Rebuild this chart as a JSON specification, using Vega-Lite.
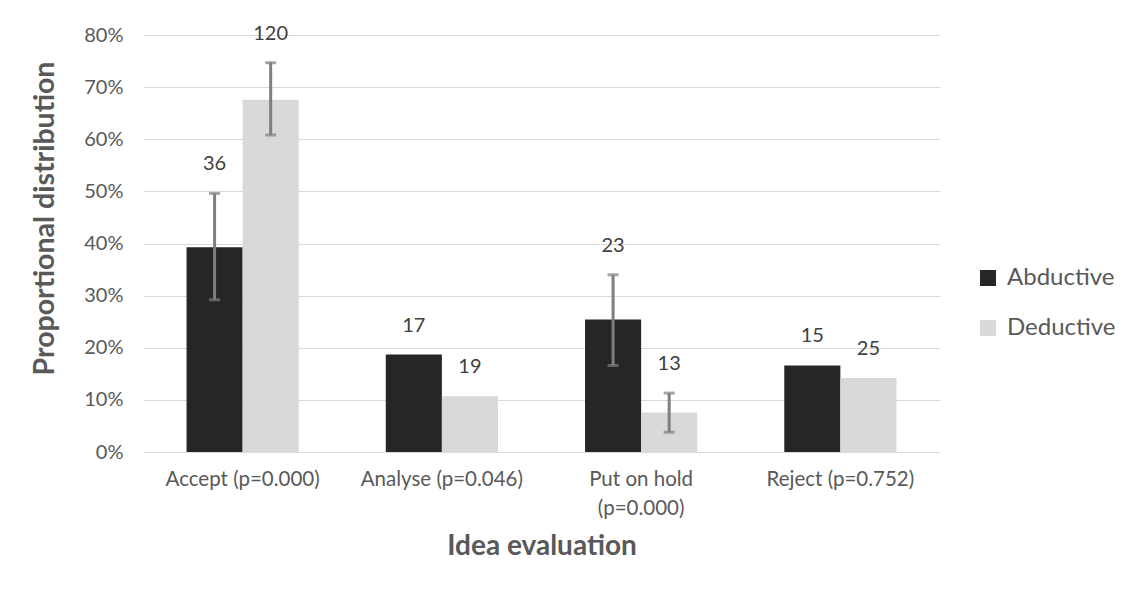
{
  "$schema": "https://vega.github.io/schema/vega-lite/v6.json",
  "width": 797,
  "height": 417,
  "autosize": {"type": "none"},
  "padding": {"left": 143, "top": 35, "right": 193, "bottom": 139},
  "background": "white",
  "config": {
    "font": "Lato",
    "view": {"stroke": null},
    "axis": {"labelColor": "#595959", "titleColor": "#595959", "gridColor": "#d9d9d9", "domain": false, "ticks": false, "labelOverlap": false}
  },
  "data": {
    "values": [
      {"category": "Accept (p=0.000)", "type": "Abductive", "value": 0.393, "lo": 0.292, "hi": 0.496, "n": 36},
      {"category": "Accept (p=0.000)", "type": "Deductive", "value": 0.676, "lo": 0.608, "hi": 0.747, "n": 120},
      {"category": "Analyse (p=0.046)", "type": "Abductive", "value": 0.187, "lo": null, "hi": null, "n": 17},
      {"category": "Analyse (p=0.046)", "type": "Deductive", "value": 0.107, "lo": null, "hi": null, "n": 19},
      {"category": "Put on hold (p=0.000)", "type": "Abductive", "value": 0.254, "lo": 0.166, "hi": 0.340, "n": 23},
      {"category": "Put on hold (p=0.000)", "type": "Deductive", "value": 0.076, "lo": 0.038, "hi": 0.113, "n": 13},
      {"category": "Reject (p=0.752)", "type": "Abductive", "value": 0.166, "lo": null, "hi": null, "n": 15},
      {"category": "Reject (p=0.752)", "type": "Deductive", "value": 0.142, "lo": null, "hi": null, "n": 25}
    ]
  },
  "encoding": {
    "x": {
      "field": "category", "type": "nominal", "sort": null,
      "scale": {"paddingInner": 0.437, "paddingOuter": 0.2185},
      "axis": {
        "title": "Idea evaluation", "titleFontSize": 28, "titleFontWeight": "bold", "titlePadding": 14,
        "labelAngle": 0, "labelFontSize": 20.5, "labelPadding": 17, "labelLineHeight": 29, "labelBaseline": "top",
        "labelExpr": "datum.label == 'Put on hold (p=0.000)' ? ['Put on hold', '(p=0.000)'] : datum.label",
        "grid": false
      }
    },
    "xOffset": {"field": "type", "type": "nominal", "sort": ["Abductive", "Deductive"], "scale": {"paddingInner": 0, "paddingOuter": 0}}
  },
  "layer": [
    {
      "mark": {"type": "bar"},
      "encoding": {
        "y": {
          "field": "value", "type": "quantitative",
          "scale": {"domain": [0, 0.8]},
          "axis": {
            "title": "Proportional distribution", "titleFontSize": 28.5, "titleFontWeight": "bold", "titlePadding": 24,
            "titleAnchor": "middle", "titleY": 183,
            "format": ".0%", "values": [0, 0.1, 0.2, 0.3, 0.4, 0.5, 0.6, 0.7, 0.8],
            "labelFontSize": 20, "labelPadding": 20, "grid": true
          }
        },
        "color": {
          "field": "type", "type": "nominal",
          "scale": {"domain": ["Abductive", "Deductive"], "range": ["#262626", "#d9d9d9"]},
          "legend": {
            "title": null, "orient": "none", "legendX": 833, "legendY": 231,
            "symbolType": "square", "symbolSize": 256, "symbolStrokeWidth": 0,
            "labelFontSize": 24, "labelColor": "#595959", "labelOffset": 7, "rowPadding": 26
          }
        }
      }
    },
    {
      "transform": [{"filter": "datum.hi != null"}],
      "mark": {"type": "rule", "color": "#7f7f7f", "strokeWidth": 3},
      "encoding": {
        "y": {"field": "lo", "type": "quantitative"},
        "y2": {"field": "hi"}
      }
    },
    {
      "transform": [{"filter": "datum.hi != null"}],
      "mark": {"type": "tick", "color": "#7f7f7f", "thickness": 3, "size": 11, "orient": "horizontal"},
      "encoding": {"y": {"field": "hi", "type": "quantitative"}}
    },
    {
      "transform": [{"filter": "datum.hi != null"}],
      "mark": {"type": "tick", "color": "#7f7f7f", "thickness": 3, "size": 11, "orient": "horizontal"},
      "encoding": {"y": {"field": "lo", "type": "quantitative"}}
    },
    {
      "transform": [{"calculate": "datum.hi != null ? datum.hi : datum.value", "as": "top"}],
      "mark": {"type": "text", "fontSize": 20, "color": "#404040", "baseline": "middle", "dy": -29},
      "encoding": {
        "y": {"field": "top", "type": "quantitative"},
        "text": {"field": "n", "type": "quantitative"}
      }
    }
  ]
}
